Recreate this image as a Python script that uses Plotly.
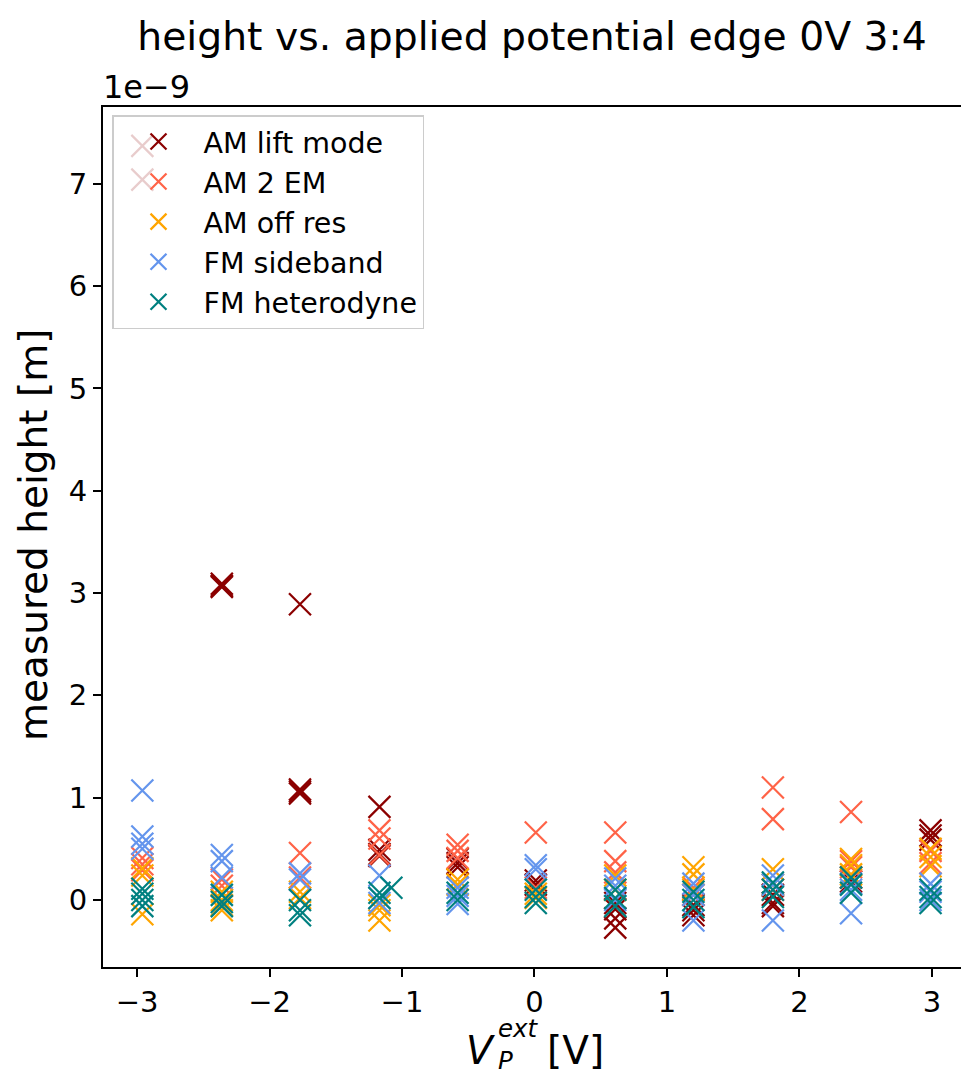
import plotly.graph_objects as go

# Applied external potential for each measurement group [V]
voltages = [-2.96, -2.36, -1.77, -1.17, -0.58, 0.01, 0.61, 1.20, 1.80, 2.39, 2.99]

# Measured heights per voltage group [nm]
am_lift_mode = [[7.37, 7.04], [3.09, 3.07, 3.06], [2.89, 1.08, 1.06, 1.04],
                [0.91, 0.49, 0.45, 0.43], [0.40, 0.36, 0.32], [0.19, 0.15],
                [-0.03, -0.09, -0.18, -0.27], [-0.05, -0.10, -0.15],
                [0.05, -0.03, -0.06], [0.22, 0.18], [0.68, 0.63, 0.59]]
am_2_em = [[0.41, 0.35, 0.29], [0.20, 0.14], [0.46, 0.22],
           [0.68, 0.60, 0.44], [0.54, 0.48, 0.41], [0.66, 0.12],
           [0.66, 0.38, 0.27], [0.12, 0.05], [1.10, 0.79, 0.10],
           [0.86, 0.38, 0.32], [0.48, 0.36]]
am_off_res = [[0.31, 0.24, -0.14], [0.08, 0.00, -0.05, -0.10], [0.08, 0.02],
              [-0.05, -0.10, -0.20], [0.20, 0.15], [0.06, 0.02],
              [0.24, 0.10], [0.32, 0.25, 0.10], [0.30, 0.15],
              [0.40, 0.34, 0.25], [0.50, 0.42, 0.33]]
fm_sideband = [[1.07, 0.62, 0.55, 0.50], [0.44, 0.38, 0.22], [0.26, 0.20],
               [0.24, 0.02, -0.03], [0.12, 0.04, -0.04], [0.34, 0.30],
               [0.21, 0.14, 0.00], [0.16, 0.05, -0.20], [0.24, 0.15, -0.20],
               [0.16, 0.10, -0.13], [0.16, 0.08, 0.00]]
fm_heterodyne = [[0.11, 0.06, 0.00, -0.06], [0.05, -0.02, -0.06], [0.00, -0.10, -0.15],
                 [0.07, 0.02], [0.07, 0.00], [0.10, 0.03, -0.03],
                 [0.10, 0.02, -0.06], [0.08, 0.00, -0.07], [0.17, 0.10, 0.03],
                 [0.22, 0.15, 0.07], [0.10, 0.03, -0.03]]
# single heterodyne measurement taken off the regular voltage grid
fm_heterodyne_extra_v = [-1.08]
fm_heterodyne_extra_h = [0.12]

series_names = ["AM lift mode", "AM 2 EM", "AM off res", "FM sideband", "FM heterodyne"]
series_colors = ["#8b0000", "#ff6347", "#ffa500", "#6495ed", "#008080"]

y_tick_values = [0, 1, 2, 3, 4, 5, 6, 7]
x_tick_values = [-3, -2, -1, 0, 1, 2, 3]

FONT = "DejaVu Sans"


def flatten(groups, extra_v=(), extra_h=()):
    xs, ys = [], []
    for v, hs in zip(voltages, groups):
        for h in hs:
            xs.append(v)
            ys.append(h * 1e-9)
    for v, h in zip(extra_v, extra_h):
        xs.append(v)
        ys.append(h * 1e-9)
    return xs, ys


all_series = [
    flatten(am_lift_mode),
    flatten(am_2_em),
    flatten(am_off_res),
    flatten(fm_sideband),
    flatten(fm_heterodyne, fm_heterodyne_extra_v, fm_heterodyne_extra_h),
]

fig = go.Figure()
for (xs, ys), name, color in zip(all_series, series_names, series_colors):
    fig.add_trace(go.Scatter(
        x=xs, y=ys, mode="markers", name=name,
        marker=dict(symbol="x-thin", size=22, color=color,
                    line=dict(color=color, width=2.2)),
    ))

# plot area in pixels: x 103..961, y 107..967
L, R, T, B = 103, 0, 107, 110
W, H = 961, 1077
pw, ph = W - L - R, H - T - B


def px(xpix):
    return (xpix - L) / pw


def py(ypix):
    return (H - B - ypix) / ph


fig.update_layout(
    width=W, height=H,
    margin=dict(l=L, r=R, t=T, b=B),
    paper_bgcolor="white", plot_bgcolor="white",
    font=dict(family=FONT, color="black", size=28),
    title=dict(text="height vs. applied potential edge 0V 3:4",
               x=0.5, xref="paper", xanchor="center",
               y=1 - 36 / H, yref="container", yanchor="middle",
               font=dict(size=39.3, family=FONT, color="black")),
    showlegend=True,
    legend=dict(x=px(112), y=py(115), xanchor="left", yanchor="top",
                bgcolor="rgba(255,255,255,0.8)", bordercolor="#cccccc",
                borderwidth=1.5, font=dict(size=28.5, family=FONT),
                itemsizing="trace", itemwidth=80, tracegroupgap=0),
    xaxis=dict(range=[-3.257, 3.22], tickmode="array", tickvals=x_tick_values,
               ticks="outside", ticklen=8, tickwidth=2, tickcolor="black",
               showline=True, linewidth=2, linecolor="black", mirror=True,
               showgrid=False, zeroline=False,
               tickfont=dict(size=29, family=FONT)),
    yaxis=dict(range=[-0.655e-9, 7.75e-9], tickmode="array",
               tickvals=[v * 1e-9 for v in y_tick_values],
               ticktext=[str(v) for v in y_tick_values],
               ticks="outside", ticklen=8, tickwidth=2, tickcolor="black",
               showline=True, linewidth=2, linecolor="black", mirror=False,
               showgrid=False, zeroline=False,
               tickfont=dict(size=29, family=FONT)),
)

annotations = [
    # scale factor of the y axis
    dict(text="1e\u22129", x=px(101), y=py(87), xanchor="left", yanchor="middle",
         font=dict(size=32)),
    # y axis label
    dict(text="measured height [m]", x=px(33), y=py(535), textangle=-90,
         xanchor="center", yanchor="middle", font=dict(size=39)),
    # x axis label: V with stacked superscript "ext" over subscript "P"
    dict(text="<i>V</i>", x=px(497), y=py(1050), xanchor="right", yanchor="middle",
         font=dict(size=39)),
    dict(text="<i>ext</i><br><i>P</i>", x=px(496), y=py(1077), xanchor="left",
         yanchor="bottom", align="left", font=dict(size=24.5)),
    dict(text="[V]", x=px(545), y=py(1050), xanchor="left", yanchor="middle",
         font=dict(size=39)),
]
for a in annotations:
    a.update(xref="paper", yref="paper", showarrow=False)
fig.update_layout(annotations=annotations)

fig.write_html("out.html")
